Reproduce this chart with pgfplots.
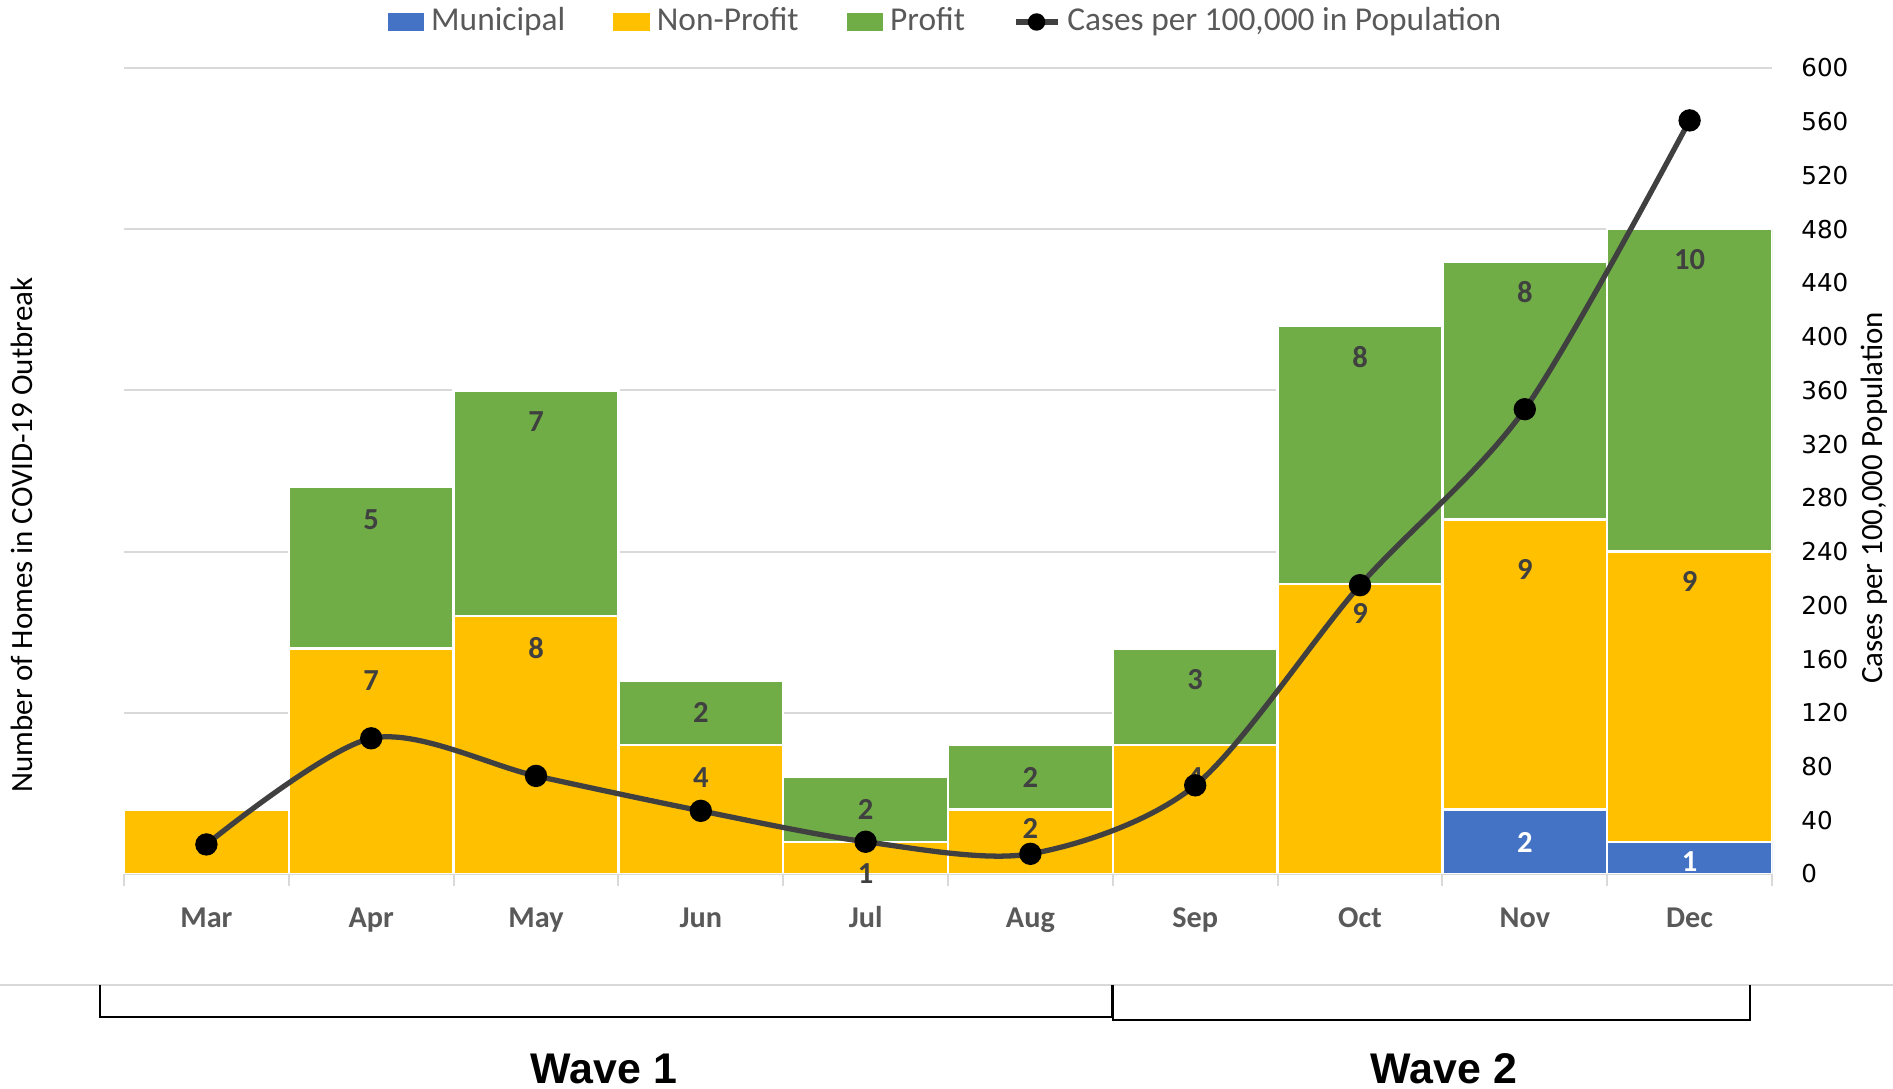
\documentclass[border=0pt]{standalone}
\usepackage{pgfplots}
\pgfplotsset{compat=1.18}
\usepackage{pgfplotstable}
\usepackage{fontspec}
\setmainfont{Carlito}
\newfontfamily\dejavu{DejaVu Sans}
\newfontfamily\arialf{Liberation Sans}
\definecolor{muni}{HTML}{4472C4}
\definecolor{nonprofit}{HTML}{FFC000}
\definecolor{profit}{HTML}{70AD47}
\definecolor{linegray}{HTML}{404040}
\definecolor{gridgray}{HTML}{D9D9D9}
\definecolor{labgray}{HTML}{404040}
\definecolor{txtgray}{HTML}{595959}

% y = segment value, top = stacked top, dy = label offset from top (in units)
\pgfplotstableread{
x y top lab dy
0 0 0 {} 0
1 0 0 {} 0
2 0 0 {} 0
3 0 0 {} 0
4 0 0 {} 0
5 0 0 {} 0
6 0 0 {} 0
7 0 0 {} 0
8 2 2 2 -1.03
9 1 1 1 -0.63
}\munitab

\pgfplotstableread{
x y top lab dy
0 2 2 2 -1.1
1 7 7 7 -1
2 8 8 8 -1
3 4 4 4 -1
4 1 1 1 -1
5 2 2 2 -0.58
6 4 4 4 -1
7 9 9 9 -0.93
8 9 11 9 -1.57
9 9 10 9 -0.94
}\nptab

\pgfplotstableread{
x y top lab dy
0 0 2 {} 0
1 5 12 5 -1
2 7 15 7 -0.96
3 2 6 2 -0.98
4 2 3 2 -1.01
5 2 4 2 -1
6 3 7 3 -0.97
7 8 17 8 -0.97
8 8 19 8 -0.95
9 10 20 10 -0.94
}\proftab

\pgfplotsset{
  panel/.style={at={(12.4mm,21.5mm)}, anchor=south west,
    width=164.8mm, height=80.6mm, scale only axis, xmin=-0.5, xmax=9.5},
  barlab/.style={draw=none, mark=none, forget plot,
    point meta=explicit symbolic, nodes near coords,
    every node near coord/.append style={anchor=center,
      font=\bfseries\fontsize{8.7}{10}\selectfont, text=labgray}},
}

\begin{document}
\begin{tikzpicture}
\useasboundingbox (0,0) rectangle (189.3mm,108.9mm);

\begin{axis}[
  panel,
  ybar stacked, bar width=16.48mm,
  ymin=0, ymax=25,
  axis x line*=bottom, axis y line*=left,
  x axis line style={draw=gridgray, line width=0.8pt, -},
  y axis line style={draw=none},
  xtick={0,...,9},
  xticklabels={Mar,Apr,May,Jun,Jul,Aug,Sep,Oct,Nov,Dec},
  minor xtick={-0.5,0.5,...,9.5},
  major x tick style={draw=none},
  minor x tick style={draw=gridgray, line width=0.6pt},
  minor tick length=1.2mm, tick align=outside,
  xticklabel style={font=\bfseries\fontsize{8.6}{10}\selectfont, text=txtgray, anchor=center, yshift=-2.9mm, text height=1.5ex, text depth=0.4ex},
  ytick={0,5,...,25}, yticklabels={},
  major y tick style={draw=none},
  ymajorgrids, major grid style={draw=gridgray, line width=0.6pt},
  legend columns=4,
  legend style={draw=none, fill=none, at={(0.5,1)}, anchor=center, yshift=4.6mm,
    font=\fontsize{9.5}{11}\selectfont, text=txtgray,
    /tikz/every even column/.append style={column sep=4.1mm},
    /tikz/every odd column/.append style={column sep=0mm},
    cells={anchor=west}},
]
\addplot[fill=muni, draw=white, line width=0.7pt, forget plot]
  table[x=x, y=y]{\munitab};
\addplot[fill=nonprofit, draw=white, line width=0.7pt, forget plot]
  table[x=x, y=y]{\nptab};
\addplot[fill=profit, draw=white, line width=0.7pt, forget plot]
  table[x=x, y=y]{\proftab};
\addlegendimage{legend image code/.code={\fill[muni] (0mm,-0.8mm) rectangle (3.5mm,0.8mm);}}
\addlegendentry{Municipal}
\addlegendimage{legend image code/.code={\fill[nonprofit] (0mm,-0.8mm) rectangle (3.5mm,0.8mm);}}
\addlegendentry{Non-Profit}
\addlegendimage{legend image code/.code={\fill[profit] (0mm,-0.8mm) rectangle (3.5mm,0.8mm);}}
\addlegendentry{Profit}
\addlegendimage{legend image code/.code={\draw[linegray, line width=1.5pt] (0mm,0) -- (4.2mm,0); \fill[black] (2.1mm,0) circle (0.8mm);}}
\addlegendentry{Cases per 100,000 in Population}
\end{axis}

% segment value labels
\begin{axis}[
  panel, ymin=0, ymax=25, axis lines=none, clip=false,
]
\addplot[barlab, every node near coord/.append style={text=white}]
  table[x=x, y expr=\thisrow{top}+\thisrow{dy}, meta=lab]{\munitab};
\addplot[barlab] table[x=x, y expr=\thisrow{top}+\thisrow{dy}, meta=lab]{\nptab};
\addplot[barlab] table[x=x, y expr=\thisrow{top}+\thisrow{dy}, meta=lab]{\proftab};
\end{axis}

\begin{axis}[
  panel,
  ymin=0, ymax=600,
  axis y line*=right, axis x line=none,
  y axis line style={draw=none},
  ytick={0,40,...,600},
  major y tick style={draw=none},
  /pgf/number format/assume math mode=true,
  yticklabel style={font=\dejavu\fontsize{7}{8}\selectfont, text=black, anchor=west, xshift=1.7mm},
]
\addplot[smooth, linegray, line width=1.5pt, mark=*, mark size=0.85mm,
  mark options={fill=black, draw=black, solid}]
  coordinates {(0,22) (1,101) (2,73) (3,47) (4,24) (5,15) (6,66) (7,215) (8,346) (9,561)};
\end{axis}

\node[rotate=90, font=\fontsize{8.8}{10}\selectfont, text=black] at (2.2mm,55.4mm) {Number of Homes in COVID-19 Outbreak};
\node[rotate=90, font=\fontsize{8.8}{10}\selectfont, text=black] at (187.4mm,59.1mm) {Cases per 100,000 Population};

\draw[gridgray, line width=0.25mm] (0,10.4mm) -- (189.3mm,10.4mm);
\draw[black, line width=0.4pt] (10.0mm,10.4mm) -- (10.0mm,7.2mm) -- (111.2mm,7.2mm) -- (111.2mm,10.4mm);
\draw[black, line width=0.4pt] (111.3mm,10.4mm) -- (111.3mm,6.9mm) -- (175.0mm,6.9mm) -- (175.0mm,10.4mm);

\node[font=\arialf\bfseries\fontsize{12.2}{14}\selectfont] at (60.4mm,2.0mm) {Wave 1};
\node[font=\arialf\bfseries\fontsize{12.2}{14}\selectfont] at (144.4mm,2.0mm) {Wave 2};
\end{tikzpicture}
\end{document}
